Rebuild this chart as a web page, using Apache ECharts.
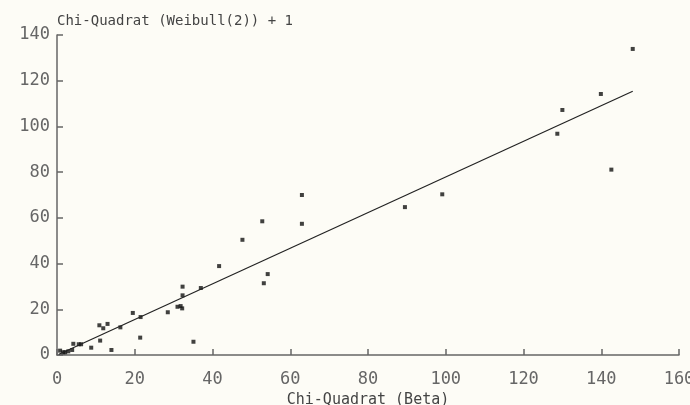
<!DOCTYPE html>
<html>
<head>
<meta charset="utf-8">
<script src="https://cdn.jsdelivr.net/npm/echarts@6/dist/echarts.min.js"></script>
<style>
html,body{margin:0;padding:0;background:#fdfcf6;}
#chart{width:690px;height:405px;}
</style>
</head>
<body>
<div id="chart"></div>
<script>
// Chi-Quadrat (Beta) on x, Chi-Quadrat (Weibull(2)) + 1 on y
const betaX = [0.8,1.6,2.1,2.9,3.9,4.2,5.6,6.2,8.8,10.9,11.9,13.0,11.1,14.0,16.3,19.5,21.5,21.4,28.5,31.0,31.8,32.2,32.3,32.3,37.0,35.1,41.7,47.7,52.8,54.2,53.2,63.0,63.0,89.5,99.1,128.7,130.0,139.9,142.6,148.1];
const weibullY = [1.9,1.2,1.2,1.6,2.2,4.9,4.7,4.7,3.2,13.0,11.7,13.6,6.3,2.2,12.1,18.4,16.6,7.6,18.7,21.1,21.4,20.4,29.9,26.1,29.3,5.8,38.9,50.4,58.5,35.4,31.4,70.0,57.4,64.7,70.3,96.8,107.2,114.2,81.1,133.9];
const fitX = [0.5, 148.1];
const fitY = [0.3, 115.4];
const xTicks = [0,20,40,60,80,100,120,140,160];
const yTicks = [0,20,40,60,80,100,120,140];

const scatterData = betaX.map((x,i)=>[x, weibullY[i]]);
const fitData = fitX.map((x,i)=>[x, fitY[i]]);
const font = '"DejaVu Sans Mono", monospace';

const chart = echarts.init(document.getElementById('chart'));
chart.setOption({
  backgroundColor: '#fdfcf6',
  animation: false,
  grid: {left: 57, right: 11, top: 35, bottom: 50, containLabel: false, outerBoundsMode: 'none'},
  xAxis: {
    type: 'value', min: 0, max: 160, interval: 20,
    name: 'Chi-Quadrat (Beta)', nameLocation: 'middle', nameGap: 36,
    nameTextStyle: {fontFamily: font, fontSize: 15, color: '#444'},
    axisLine: {show: true, lineStyle: {color: '#666', width: 1.5}},
    axisTick: {show: true, inside: true, length: 6, lineStyle: {color: '#666', width: 1.5}},
    axisLabel: {fontFamily: font, fontSize: 17, color: '#666', margin: 16,
      formatter: v => xTicks.includes(v) ? String(v) : ''},
    splitLine: {show: false}
  },
  yAxis: {
    type: 'value', min: 0, max: 140, interval: 20,
    name: 'Chi-Quadrat (Weibull(2)) + 1', nameLocation: 'end', nameGap: 7,
    nameTextStyle: {fontFamily: font, fontSize: 14, color: '#444', align: 'left'},
    axisLine: {show: true, lineStyle: {color: '#666', width: 1.5}},
    axisTick: {show: true, inside: true, length: 6, lineStyle: {color: '#666', width: 1.5}},
    axisLabel: {fontFamily: font, fontSize: 17, color: '#666', margin: 7,
      formatter: v => yTicks.includes(v) ? String(v) : ''},
    splitLine: {show: false}
  },
  series: [
    {type: 'scatter', data: scatterData, symbol: 'rect', symbolSize: 4,
     itemStyle: {color: '#111'}},
    {type: 'line', data: fitData, symbol: 'none',
     lineStyle: {color: '#222', width: 1.2}}
  ]
});
</script>
</body>
</html>
